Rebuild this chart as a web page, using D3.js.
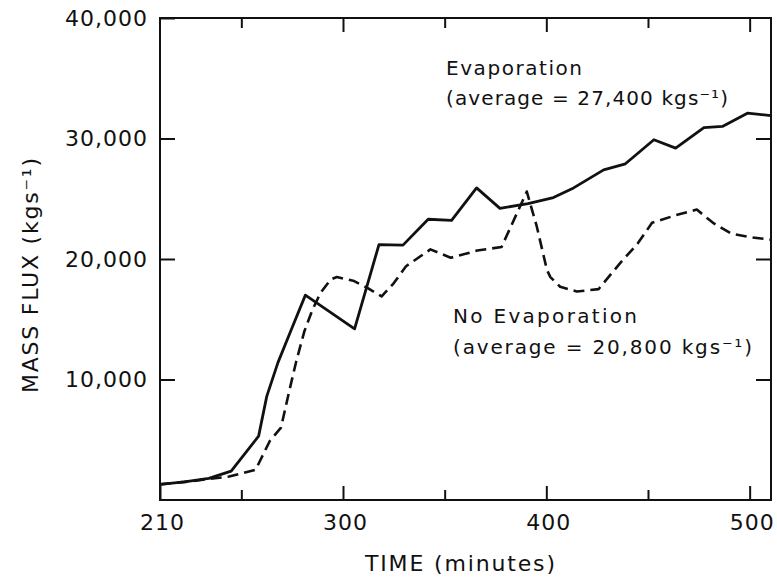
<!DOCTYPE html>
<html>
<head>
<meta charset="utf-8">
<script src="https://cdn.jsdelivr.net/npm/d3@7/dist/d3.min.js"></script>
<style>
  html, body { margin: 0; padding: 0; background: #fff; }
  svg { display: block; }
  text { font-family: "DejaVu Sans", sans-serif; fill: #111; }
</style>
</head>
<body>
<svg id="chart" width="777" height="579"></svg>
<script>
// Mass flux through the cloud base, with and without evaporation
const timeEvap = [210, 222, 234, 245, 258.5, 262.5, 268, 274.5, 281.5, 305.7, 317.7, 329.5, 341.9, 353.4, 365.7, 377.2, 391, 403.5, 413.4, 428.2, 438.9, 452.9, 463.6, 477.5, 486.6, 498.9, 510.5];
const fluxEvap = [1300, 1500, 1800, 2400, 5300, 8600, 11400, 14100, 17000, 14200, 21200, 21150, 23300, 23200, 25900, 24200, 24600, 25100, 25900, 27400, 27900, 29900, 29200, 30900, 31000, 32100, 31900];

const timeNoEvap = [210, 225, 244, 257, 264, 269.5, 273.5, 277, 281, 285, 289, 294, 297, 305, 312, 319, 325, 331, 343, 353, 366, 378, 390.4, 395.3, 400.3, 402, 406.8, 415, 425.7, 436, 445, 452, 463, 474, 482, 491, 501, 510.5];
const fluxNoEvap = [1300, 1550, 1950, 2500, 4900, 6000, 9000, 11500, 14000, 15800, 17200, 18300, 18500, 18200, 17600, 16900, 18000, 19400, 20800, 20100, 20700, 21000, 25600, 22700, 19100, 18500, 17700, 17300, 17500, 19600, 21300, 23000, 23600, 24100, 23000, 22100, 21800, 21600];

const xTickLabels = [210, 300, 400, 500];
const xMinorTicks = [250, 350, 450];
const yTickLabels = [10000, 20000, 30000, 40000];

const xTitle = "TIME (minutes)";
const yTitle = "MASS FLUX (kgs\u207B\u00B9)";
const evapName = "Evaporation";
const evapAvg = "(average = 27,400 kgs\u207B\u00B9)";
const noEvapName = "No Evaporation";
const noEvapAvg = "(average = 20,800 kgs\u207B\u00B9)";

const svg = d3.select("#chart");
const plotL = 160, plotR = 771, plotT = 18, plotB = 500;

const x = d3.scaleLinear().domain([210, 510.5]).range([plotL, plotR]);
const y = d3.scaleLinear().domain([0, 40000]).range([plotB, plotT]);

// frame
svg.append("rect")
  .attr("x", plotL).attr("y", plotT)
  .attr("width", plotR - plotL).attr("height", plotB - plotT)
  .attr("fill", "none").attr("stroke", "#111").attr("stroke-width", 2);

const tickFont = g => g.selectAll("text")
  .style("font-size", "22px")
  .style("letter-spacing", "1px")
  .attr("fill", "#111");

// bottom axis: labels and inward major ticks
const xAxis = svg.append("g")
  .attr("transform", `translate(0,${plotB})`)
  .call(d3.axisBottom(x).tickValues(xTickLabels).tickFormat(d3.format("d"))
    .tickSize(-14).tickPadding(14));
xAxis.select(".domain").remove();
xAxis.selectAll("line").attr("stroke", "#111").attr("stroke-width", 2);
xAxis.call(tickFont);
xAxis.selectAll("text").attr("dx", "2px");

// bottom minor ticks
svg.append("g")
  .attr("transform", `translate(0,${plotB})`)
  .call(d3.axisBottom(x).tickValues(xMinorTicks).tickSize(-10).tickFormat(""))
  .call(g => g.select(".domain").remove())
  .selectAll("line").attr("stroke", "#111").attr("stroke-width", 2);

// top ticks
svg.append("g")
  .attr("transform", `translate(0,${plotT})`)
  .call(d3.axisTop(x).tickValues([300, 400, 500]).tickSize(-14).tickFormat(""))
  .call(g => g.select(".domain").remove())
  .selectAll("line").attr("stroke", "#111").attr("stroke-width", 2);
svg.append("g")
  .attr("transform", `translate(0,${plotT})`)
  .call(d3.axisTop(x).tickValues(xMinorTicks).tickSize(-10).tickFormat(""))
  .call(g => g.select(".domain").remove())
  .selectAll("line").attr("stroke", "#111").attr("stroke-width", 2);

// left axis
const yAxis = svg.append("g")
  .attr("transform", `translate(${plotL},0)`)
  .call(d3.axisLeft(y).tickValues(yTickLabels).tickFormat(d3.format(","))
    .tickSize(-15).tickPadding(12));
yAxis.select(".domain").remove();
yAxis.selectAll("line").attr("stroke", "#111").attr("stroke-width", 2);
yAxis.call(tickFont);

// right ticks
svg.append("g")
  .attr("transform", `translate(${plotR},0)`)
  .call(d3.axisRight(y).tickValues([10000, 20000, 30000]).tickSize(-15).tickFormat(""))
  .call(g => g.select(".domain").remove())
  .selectAll("line").attr("stroke", "#111").attr("stroke-width", 2);

// series
const line = d3.line()
  .x(d => x(d[0]))
  .y(d => y(d[1]))
  .curve(d3.curveLinear);

const evap = timeEvap.map((t, i) => [t, fluxEvap[i]]);
const noEvap = timeNoEvap.map((t, i) => [t, fluxNoEvap[i]]);

svg.append("path")
  .datum(noEvap)
  .attr("d", line)
  .attr("fill", "none")
  .attr("stroke", "#111")
  .attr("stroke-width", 2.6)
  .attr("stroke-dasharray", "11,6")
  .attr("stroke-linejoin", "round");

svg.append("path")
  .datum(evap)
  .attr("d", line)
  .attr("fill", "none")
  .attr("stroke", "#111")
  .attr("stroke-width", 2.8)
  .attr("stroke-linejoin", "round");

// annotations
function label(txt, px, py, len, size) {
  svg.append("text")
    .attr("x", px).attr("y", py)
    .attr("textLength", len)
    .attr("lengthAdjust", "spacing")
    .style("font-size", size + "px")
    .text(txt);
}
label(evapName, 446, 75, 136, 20);
label(evapAvg, 446, 105, 282, 20);
label(noEvapName, 453, 323, 184, 20);
label(noEvapAvg, 453, 354, 299, 20);

// axis titles
svg.append("text")
  .attr("x", 365).attr("y", 571)
  .attr("textLength", 190)
  .attr("lengthAdjust", "spacing")
  .style("font-size", "22px")
  .text(xTitle);

svg.append("text")
  .attr("transform", "translate(38,393) rotate(-90)")
  .attr("x", 0).attr("y", 0)
  .attr("textLength", 235)
  .attr("lengthAdjust", "spacing")
  .style("font-size", "22px")
  .text(yTitle);
</script>
</body>
</html>
